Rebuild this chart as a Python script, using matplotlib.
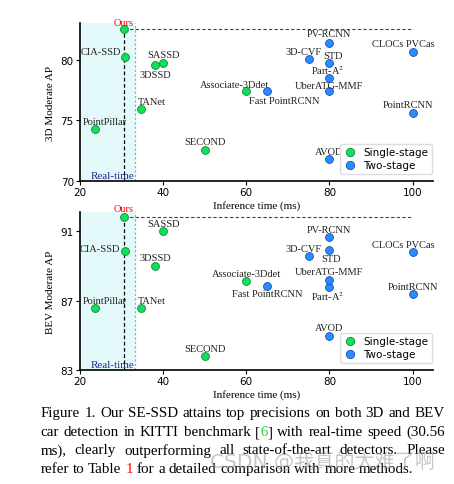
import matplotlib
matplotlib.use('Agg')
import matplotlib.pyplot as plt
from matplotlib.lines import Line2D

plt.rcParams['mathtext.fontset'] = 'stix'
SERIF = 'Liberation Serif'

# data
names = ['Ours', 'CIA-SSD', 'SASSD', '3DSSD', 'TANet', 'PointPillar', 'SECOND',
         'Associate-3Ddet', 'Fast PointRCNN', 'PV-RCNN', '3D-CVF', 'STD',
         'Part-A$^2$', 'UberATG-MMF', 'CLOCs PVCas', 'PointRCNN', 'AVOD']
times = [30.56, 30.76, 40, 38, 34.75, 23.6, 50, 60, 65, 80, 75, 80, 80, 80, 100, 100, 80]
ap_3d = [82.54, 80.28, 79.79, 79.57, 75.94, 74.31, 72.55, 77.40, 77.40,
         81.43, 80.05, 79.71, 78.49, 77.43, 80.67, 75.64, 71.76]
ap_bev = [91.85, 89.84, 91.03, 89.02, 86.54, 86.56, 83.80, 88.13, 87.84,
          90.65, 89.56, 89.91, 87.79, 88.21, 89.80, 87.39, 84.97]
stage = ['single'] * 8 + ['two'] * 9
realtime_ms = 33.3

# label offsets in pixels (dx, dy, ha)
off_3d = [(0, 7, 'center'), (-4, 5, 'right'), (0, 8, 'center'), (0, -9, 'center'),
          (-3, 7.6, 'left'), (10, 7.6, 'center'), (0, 8, 'center'), (-12, 7, 'center'),
          (17.5, -8.7, 'center'), (0, 9, 'center'), (-4.7, 8, 'center'), (4, 8.3, 'center'),
          (-2, 8.3, 'center'), (0, 5.7, 'center'), (-9, 8, 'center'), (-4.7, 8, 'center'),
          (0, 8, 'center')]
off_bev = [(0, 7.7, 'center'), (-5, 3.3, 'right'), (0, 7.7, 'center'), (0, 7.6, 'center'),
           (-3.3, 8, 'left'), (10, 8, 'center'), (0, 7.3, 'center'), (0, 7.3, 'center'),
           (0, -8, 'center'), (0, 7.6, 'center'), (-4.7, 7.3, 'center'), (2, -8, 'center'),
           (-2, -8.3, 'center'), (0, 7.7, 'center'), (-9, 7.7, 'center'), (0, 7.7, 'center'),
           (0, 8.4, 'center')]

GREEN, GREEN_E = '#12e05c', '#0a8a30'
BLUE, BLUE_E = '#2b8cff', '#1450b0'

fig = plt.figure(figsize=(4.54, 4.85), dpi=100)
W, H = 454, 485


def panel(rect, ys, offs, ylim, yticks, ylabel):
    ax = fig.add_axes(rect)
    ax.set_xlim(20, 105)
    ax.set_ylim(*ylim)
    ax.axvspan(20, realtime_ms, color='#e4fafa', zorder=0, lw=0)
    ax.axvline(realtime_ms, color='#7fb0e8', ls=(0, (2, 1.5)), lw=0.9, zorder=1)
    ax.plot([times[0], times[0]], [ylim[0], ys[0]], color='k', ls=(0, (3, 2)), lw=0.9, zorder=1)
    ax.plot([times[0], 100], [ys[0], ys[0]], color='#444444', ls=(0, (3, 2)), lw=0.8, zorder=1)
    for i, n in enumerate(names):
        if stage[i] == 'single':
            fc, ec = GREEN, GREEN_E
        else:
            fc, ec = BLUE, BLUE_E
        ax.scatter(times[i], ys[i], s=32, c=fc, edgecolors=ec, linewidths=0.6, zorder=3)
        dx, dy, ha = offs[i]
        ax.annotate(n, (times[i], ys[i]), xytext=(dx, dy), textcoords='offset pixels',
                    ha=ha, va='center', fontsize=7.5, family=SERIF,
                    color='red' if n == 'Ours' else '#222222', annotation_clip=False)
    ax.text(22.6, ylim[0] + (ylim[1] - ylim[0]) * 0.035, 'Real-time', color='#23238e',
            fontsize=8, family=SERIF, va='center', ha='left')
    ax.spines['top'].set_visible(False)
    ax.spines['right'].set_visible(False)
    ax.spines['left'].set_linewidth(1.2)
    ax.spines['bottom'].set_linewidth(1.2)
    ax.set_xticks([20, 40, 60, 80, 100])
    ax.set_yticks(yticks)
    ax.tick_params(labelsize=7.5, length=3, width=0.8, pad=1.5)
    ax.set_xlabel('Inference time (ms)', family=SERIF, fontsize=8, labelpad=2)
    ax.set_ylabel(ylabel, family=SERIF, fontsize=8, labelpad=4)
    h = [Line2D([], [], ls='', marker='o', ms=6, mfc=GREEN, mec=GREEN_E, mew=0.6),
         Line2D([], [], ls='', marker='o', ms=6, mfc=BLUE, mec=BLUE_E, mew=0.6)]
    ax.legend(h, ['Single-stage', 'Two-stage'], loc='lower right', bbox_to_anchor=(1.01, 0.01),
              fontsize=7.5, handletextpad=0.5, borderpad=0.35, labelspacing=0.3,
              framealpha=1, edgecolor='#dddddd', handlelength=1.4)
    return ax


panel([80 / W, 1 - 181.7 / H, 353.3 / W, 157.4 / H], ap_3d, off_3d, (70, 83.04),
      [70, 75, 80], '3D Moderate AP')
panel([80 / W, 1 - 370.7 / H, 353.3 / W, 157.4 / H], ap_bev, off_bev, (83, 92.1),
      [83, 87, 91], 'BEV Moderate AP')

# caption, justified word by word
K = 'k'
caption = [
    [[('Figure', K)], [('1.', K)], [('Our', K)], [('SE-SSD', K)], [('attains', K)], [('top', K)],
     [('precisions', K)], [('on', K)], [('both', K)], [('3D', K)], [('and', K)], [('BEV', K)]],
    [[('car', K)], [('detection', K)], [('in', K)], [('KITTI', K)], [('benchmark', K)],
     [('[', K), ('6', '#2ecc40'), (']', K)], [('with', K)], [('real-time', K)], [('speed', K)],
     [('(30.56', K)]],
    [[('ms),', K)], [('clearly', K)], [('outperforming', K)], [('all', K)],
     [('state-of-the-art', K)], [('detectors.', K)], [('Please', K)]],
    [[('refer', K)], [('to', K)], [('Table', K)], [('1', 'red')], [('for', K)], [('a', K)],
     [('detailed', K)], [('comparison', K)], [('with', K)], [('more', K)], [('methods.', K)]],
]
line_y = [413.3, 432.7, 451, 470]
x_left, x_right = 40.5, 445
cap_size = 10.8
r = fig.canvas.get_renderer()
for li, words in enumerate(caption):
    objs = []
    widths = []
    for w in words:
        parts = []
        tw = 0
        for s, c in w:
            t = fig.text(0, 1 - line_y[li] / H, s, color=c, fontsize=cap_size, family=SERIF,
                         va='center', ha='left')
            pw = t.get_window_extent(r).width
            parts.append((t, pw))
            tw += pw
        objs.append(parts)
        widths.append(tw)
    if li < len(caption) - 1:
        gap = (x_right - x_left - sum(widths)) / (len(words) - 1)
    else:
        gap = cap_size * 100 / 72 * 0.25
    x = x_left
    for parts, tw in zip(objs, widths):
        px = x
        for t, pw in parts:
            t.set_x(px / W)
            px += pw
        x += tw + gap

fig.text(210 / W, 1 - 461.7 / H, 'CSDN @我真的太难了啊', family=['DejaVu Sans', 'Noto Sans CJK SC'],
         fontsize=14.5, color='#9a9a9a', alpha=0.55, va='center', ha='left')

fig.savefig('out.png', dpi=100)
